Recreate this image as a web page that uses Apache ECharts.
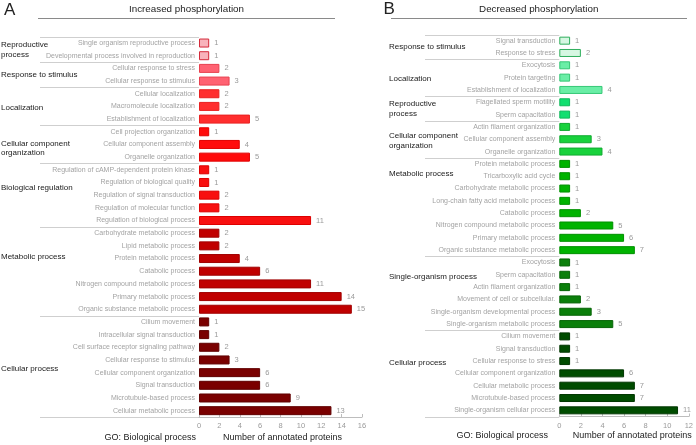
<!DOCTYPE html>
<html><head><meta charset="utf-8">
<script src="https://cdn.jsdelivr.net/npm/echarts@6/dist/echarts.min.js"></script>
<style>html,body{margin:0;padding:0;background:#fff}#c{width:696px;height:445px}</style>
</head><body><div id="c"></div>
<script>
// ---------- Panel A data ----------
const groupsA = ['Reproductive\nprocess','Response to stimulus','Localization','Cellular component\norganization','Biological regulation','Metabolic process','Cellular process'];
const groupSizesA = [2,2,3,3,5,7,8];
const categoriesA = ['Single organism reproductive process','Developmental process involved in reproduction',
 'Cellular response to stress','Cellular response to stimulus',
 'Cellular localization','Macromolecule localization','Establishment of localization',
 'Cell projection organization','Cellular component assembly','Organelle organization',
 'Regulation of cAMP-dependent protein kinase','Regulation of biological quality','Regulation of signal transduction','Regulation of molecular function','Regulation of biological process',
 'Carbohydrate metabolic process','Lipid metabolic process','Protein metabolic process','Catabolic process','Nitrogen compound metabolic process','Primary metabolic process','Organic substance metabolic process',
 'Cilium movement','Intracellular signal transduction','Cell surface receptor signaling pathway','Cellular response to stimulus','Cellular component organization','Signal transduction','Microtubule-based process','Cellular metabolic process'];
const valuesA = [1,1, 2,3, 2,2,5, 1,4,5, 1,1,2,2,11, 2,2,4,6,11,14,15, 1,1,2,3,6,6,9,13];
const xTicksA = [0,2,4,6,8,10,12,14,16];

// ---------- Panel B data ----------
const groupsB = ['Response to stimulus','Localization','Reproductive\nprocess','Cellular component\norganization','Metabolic process','Single-organism process','Cellular process'];
const groupSizesB = [2,3,2,3,8,6,7];
const categoriesB = ['Signal transduction','Response to stress',
 'Exocytosis','Protein targeting','Establishment of localization',
 'Flagellated sperm motility','Sperm capacitation',
 'Actin filament organization','Cellular component assembly','Organelle organization',
 'Protein metabolic process','Tricarboxylic acid cycle','Carbohydrate metabolic process','Long-chain fatty acid metabolic process','Catabolic process','Nitrogen compound metabolic process','Primary metabolic process','Organic substance metabolic process',
 'Exocytosis','Sperm capacitation','Actin filament organization','Movement of cell or subcellular.','Single-organism developmental process','Single-organism metabolic process',
 'Cilium movement','Signal transduction','Cellular response to stress','Cellular component organization','Cellular metabolic process','Microtubule-based process','Single-organism cellular process'];
const valuesB = [1,2, 1,1,4, 1,1, 1,3,4, 1,1,1,1,2,5,6,7, 1,1,1,2,3,5, 1,1,1,6,7,7,11];
const xTicksB = [0,2,4,6,8,10,12];

// ---------- styles ----------
const fillA = ['#f8b3bb','#ff6272','#ff2e2e','#ff0c0c','#f81010','#c00000','#7a0000'];
const edgeA = ['#d42a3a','#e8404f','#e82020','#e00000','#dd0000','#a00000','#600000'];
const fillB = ['#d6f7e2','#6aeea6','#12df70','#18d23c','#00b300','#0b7f0b','#004c00'];
const edgeB = ['#2fae5c','#35c775','#0fb95c','#10aa30','#009000','#066406','#003600'];

const FONT = '"Liberation Sans", Arial, sans-serif';
const gA = {left:199, top:36.7, width:163, height:380.3};
const gB = {left:559.3, top:34.5, width:132, height:382};

function groupIndex(sizes){
  const idx=[]; sizes.forEach((s,g)=>{for(let i=0;i<s;i++) idx.push(g);}); return idx;
}
function barData(vals, sizes, fills, edges){
  const gi = groupIndex(sizes);
  return vals.map((v,i)=>({value:v, itemStyle:{color:fills[gi[i]], borderColor:edges[gi[i]], borderWidth:1}}));
}
function yAx(cats, gridIndex){
  return {type:'category', gridIndex, inverse:true, data:cats.map((c,i)=>String(i)),
    axisLine:{show:false}, axisTick:{show:false},
    axisLabel:{color:'#a3a3a3', fontSize:7, fontFamily:FONT, margin:4, interval:0,
      formatter:(v)=>cats[+v]}};
}
function xAx(ticks, gridIndex){
  return {type:'value', gridIndex, min:ticks[0], max:ticks[ticks.length-1], interval:ticks[1]-ticks[0],
    axisLine:{show:true, lineStyle:{color:'#bdbdbd', width:1}},
    axisTick:{show:true, inside:true, length:3, lineStyle:{color:'#bdbdbd'}},
    splitLine:{show:false},
    axisLabel:{color:'#9a9a9a', fontSize:7.5, fontFamily:FONT, margin:5}};
}
function ser(vals, sizes, fills, edges, idx, bw){
  return {type:'bar', xAxisIndex:idx, yAxisIndex:idx, barWidth:bw,
    data:barData(vals,sizes,fills,edges),
    label:{show:true, position:'right', distance:5, color:'#9a9a9a', fontSize:7.5, fontFamily:FONT},
    silent:true, animation:false};
}
function separators(sizes, g, x0){
  const n = sizes.reduce((a,b)=>a+b,0), rh = g.height/n;
  const out=[]; let cum=0;
  const ys=[0]; sizes.forEach(s=>{cum+=s; ys.push(cum);});
  ys.forEach(k=>{
    const y = Math.round(g.top + rh*k)+0.5;
    out.push({type:'line', shape:{x1:x0, y1:y, x2:g.left, y2:y}, style:{stroke:'#cfcfcf', lineWidth:1}, silent:true});
  });
  return out;
}
function txt(x,y,t,opt){
  return Object.assign({type:'text', x, y, silent:true,
    style:Object.assign({text:t, fill:'#1a1a1a', fontSize:8, fontFamily:FONT, align:'left', verticalAlign:'middle', lineHeight:9.5}, opt||{})});
}
const groupYA = [50,75,108,148.5,188,257,369];
const groupYB = [46.7,78.7,109,140.7,174,276.7,362.7];

const graphics = [].concat(
  separators(groupSizesA, gA, 40),
  separators(groupSizesB, gB, 425),
  groupsA.map((t,i)=>txt(1, groupYA[i], t)),
  groupsB.map((t,i)=>txt(389, groupYB[i], t)),
  [
    txt(4, 10, 'A', {fontSize:17, fill:'#222'}),
    txt(383.5, 9, 'B', {fontSize:17, fill:'#222'}),
    txt(186.5, 9.5, 'Increased phosphorylation', {fontSize:9.8, align:'center', fill:'#222'}),
    txt(538.7, 9.5, 'Decreased phosphorylation', {fontSize:9.8, align:'center', fill:'#222'}),
    {type:'line', shape:{x1:38,y1:18.5,x2:335,y2:18.5}, style:{stroke:'#8a8a8a', lineWidth:1.2}, silent:true},
    {type:'line', shape:{x1:391,y1:18.5,x2:687,y2:18.5}, style:{stroke:'#8a8a8a', lineWidth:1.2}, silent:true},
    txt(196, 437.5, 'GO: Biological process', {fontSize:9, align:'right', fill:'#222'}),
    txt(223, 437.5, 'Number of annotated proteins', {fontSize:9, fill:'#222'}),
    txt(548, 435.7, 'GO: Biological process', {fontSize:9, align:'right', fill:'#222'}),
    txt(572.7, 435.7, 'Number of annotated proteins', {fontSize:9, fill:'#222'})
  ]
);

const chart = echarts.init(document.getElementById('c'), null, {renderer:'canvas'});
chart.setOption({
  animation:false,
  backgroundColor:'#fff',
  textStyle:{fontFamily:FONT},
  grid:[Object.assign({containLabel:false}, gA), Object.assign({containLabel:false}, gB)],
  xAxis:[xAx(xTicksA,0), xAx(xTicksB,1)],
  yAxis:[yAx(categoriesA,0), yAx(categoriesB,1)],
  series:[ser(valuesA,groupSizesA,fillA,edgeA,0,9), ser(valuesB,groupSizesB,fillB,edgeB,1,8)],
  graphic:graphics
});
</script></body></html>
